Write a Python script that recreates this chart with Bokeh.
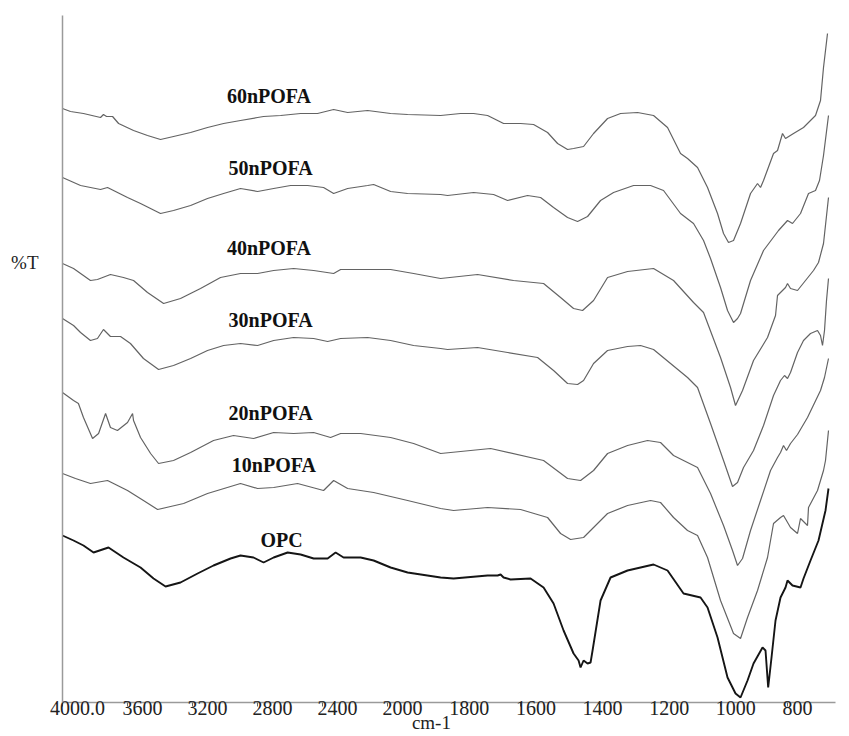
import numpy as np
from bokeh.plotting import figure
from bokeh.models import Range1d, FixedTicker, Label, CustomJSTickFormatter, LinearAxis
from bokeh.embed import file_html
from bokeh.resources import INLINE

# ---------------- data (wavenumber in cm-1, %T in arbitrary offset units) -------------
wn_60 = [4000, 3951, 3871, 3766, 3748, 3729, 3692, 3655, 3563, 3477, 3397, 3317, 3212, 3108, 3009, 2905, 2800, 2763, 2658, 2535,
         2431, 2332, 2246, 2123, 1991, 1940, 1841, 1781, 1742, 1700, 1652, 1601, 1562, 1520, 1490, 1460, 1442, 1412, 1382, 1340,
         1301, 1250, 1202, 1160, 1121, 1100, 1070, 1040, 1010, 992, 977, 962, 941, 911, 890, 881, 872, 842, 830, 815,
         806, 782, 752, 716, 701, 692, 680]
t_60 = [594, 591, 589, 585, 588, 586, 586, 579, 572, 567, 563, 566, 570, 575, 579, 582, 585, 586, 587, 589,
        589, 593, 590, 592, 589, 588, 587, 589, 589, 587, 579, 579, 578, 570, 559, 553, 554, 556, 569, 584,
        589, 590, 587, 575, 549, 544, 535, 515, 489, 469, 460, 462, 479, 509, 519, 515, 522, 549, 552, 569,
        564, 569, 575, 587, 602, 635, 669]

wn_50 = [4000, 3889, 3766, 3723, 3600, 3520, 3397, 3317, 3212, 3108, 3009, 2905, 2800, 2701, 2597, 2492, 2394, 2332, 2246, 2123,
         2086, 1991, 1940, 1841, 1820, 1742, 1682, 1640, 1580, 1541, 1502, 1460, 1430, 1400, 1361, 1322, 1262, 1211, 1172, 1121,
         1082, 1052, 1031, 1001, 980, 962, 950, 941, 911, 872, 827, 800, 785, 761, 737, 716, 704, 692, 677]
t_50 = [525, 517, 513, 515, 505, 499, 489, 492, 497, 504, 509, 514, 511, 514, 517, 517, 515, 509, 514, 517,
        518, 511, 509, 508, 507, 510, 508, 502, 507, 505, 495, 485, 481, 486, 502, 510, 517, 517, 512, 489,
        479, 462, 444, 415, 392, 380, 384, 389, 422, 452, 472, 482, 479, 489, 509, 512, 522, 547, 587]

wn_40 = [4000, 3932, 3828, 3785, 3705, 3625, 3563, 3477, 3378, 3274, 3151, 3028, 2905, 2800, 2701, 2578, 2455, 2332, 2289, 2166,
         1991, 1922, 1841, 1730, 1622, 1532, 1481, 1442, 1415, 1382, 1340, 1280, 1202, 1142, 1082, 1052, 1001, 971, 956, 935,
         902, 860, 836, 830, 806, 800, 791, 770, 722, 707, 692, 677]
t_40 = [439, 434, 422, 423, 428, 425, 422, 410, 399, 404, 414, 425, 429, 429, 432, 434, 432, 429, 433, 433,
        433, 429, 424, 428, 422, 419, 405, 394, 392, 402, 425, 431, 434, 422, 400, 390, 345, 315, 297, 312,
        342, 365, 387, 407, 415, 419, 414, 412, 432, 440, 459, 505]

wn_30 = [4000, 3932, 3889, 3828, 3785, 3748, 3705, 3643, 3582, 3502, 3409, 3317, 3212, 3108, 3009, 2905, 2800, 2701, 2578, 2455,
         2369, 2289, 2123, 1991, 1922, 1841, 1820, 1730, 1640, 1550, 1502, 1460, 1430, 1412, 1382, 1340, 1280, 1241, 1202, 1151,
         1100, 1070, 1031, 992, 965, 950, 932, 902, 872, 842, 821, 809, 800, 791, 770, 752, 731, 710, 701, 695,
         689, 683, 677]
t_30 = [384, 377, 370, 362, 364, 373, 366, 366, 359, 344, 333, 337, 344, 352, 357, 359, 357, 362, 365, 364,
        361, 364, 365, 362, 357, 354, 353, 355, 350, 345, 332, 319, 318, 322, 339, 352, 356, 357, 353, 339,
        325, 315, 279, 242, 216, 220, 235, 252, 277, 307, 322, 327, 324, 330, 350, 362, 369, 372, 367, 357,
        372, 402, 424]

wn_20 = [4000, 3932, 3902, 3871, 3815, 3778, 3735, 3705, 3662, 3600, 3569, 3563, 3520, 3458, 3409, 3317, 3212, 3071, 2948, 2825,
         2701, 2578, 2455, 2351, 2289, 2166, 1991, 1922, 1841, 1691, 1532, 1460, 1421, 1382, 1340, 1280, 1220, 1181, 1142, 1070,
         1031, 992, 965, 950, 935, 911, 881, 851, 830, 821, 812, 803, 791, 770, 740, 701, 689, 677]
t_20 = [310, 302, 299, 285, 264, 269, 289, 275, 272, 280, 289, 282, 265, 249, 239, 242, 250, 262, 267, 264,
        270, 269, 270, 265, 269, 269, 265, 259, 249, 254, 242, 224, 222, 232, 249, 257, 262, 260, 247, 235,
        209, 177, 152, 137, 144, 172, 202, 232, 245, 250, 257, 252, 259, 268, 285, 312, 325, 344]

wn_10 = [4000, 3920, 3828, 3723, 3600, 3502, 3415, 3335, 3255, 3108, 2905, 2800, 2701, 2554, 2394, 2332, 2246, 2086, 1940, 1841,
         1802, 1700, 1601, 1520, 1481, 1451, 1412, 1382, 1340, 1280, 1211, 1181, 1142, 1100, 1070, 1040, 1001, 962, 941, 920,
         890, 860, 842, 821, 812, 791, 770, 761, 740, 737, 710, 692, 686, 677]
t_10 = [229, 224, 219, 222, 212, 202, 193, 196, 199, 209, 219, 214, 215, 219, 212, 222, 214, 210, 202, 194,
        192, 195, 193, 185, 169, 163, 165, 175, 189, 197, 202, 200, 185, 172, 167, 145, 102, 69, 64, 85,
        112, 145, 179, 185, 187, 175, 169, 184, 177, 195, 212, 232, 242, 272]

wn_opc = [4000, 3932, 3871, 3809, 3717, 3625, 3520, 3440, 3366, 3274, 3169, 3071, 2966, 2905, 2825, 2763, 2701, 2615, 2535, 2455,
          2369, 2320, 2271, 2166, 2086, 1991, 1940, 1841, 1802, 1700, 1670, 1661, 1652, 1631, 1571, 1532, 1502, 1472, 1442, 1427,
          1421, 1412, 1400, 1391, 1385, 1361, 1331, 1280, 1202, 1160, 1112, 1061, 1040, 1010, 980, 956, 941, 920, 902, 875,
          866, 858, 848, 836, 821, 806, 800, 785, 761, 752, 731, 707, 686, 677]
t_opc = [167, 162, 157, 150, 155, 145, 135, 124, 116, 120, 129, 137, 144, 147, 145, 140, 145, 150, 148, 144,
         144, 150, 145, 145, 142, 135, 130, 125, 124, 127, 127, 128, 125, 123, 124, 115, 99, 72, 49, 42,
         35, 42, 39, 40, 52, 102, 125, 132, 138, 132, 109, 105, 95, 65, 25, 9, 5, 22, 39, 55,
         52, 15, 45, 82, 105, 115, 122, 117, 115, 124, 142, 162, 192, 214]

series_names = ["60nPOFA", "50nPOFA", "40nPOFA", "30nPOFA", "20nPOFA", "10nPOFA", "OPC"]
tick_wn = [4000, 3600, 3200, 2800, 2400, 2000, 1800, 1600, 1400, 1200, 1000, 800]
tick_labels = ["4000.0", "3600", "3200", "2800", "2400", "2000", "1800", "1600", "1400", "1200", "1000", "800"]
x_title = "cm-1"
y_title = "%T"


# ---------------- axis transform: region above 2000 cm-1 is compressed (x2.05) -------------
def to_u(w):
    w = np.asarray(w, dtype=float)
    return np.where(w >= 2000, (4000.0 - w) / 2.05, 2000.0 / 2.05 + (2000.0 - w))


SERIF = "Liberation Serif"
X_END_WN = 656
p = figure(width=849, height=736, output_backend="svg", toolbar_location=None,
           x_range=Range1d(0, float(to_u(X_END_WN))), y_range=Range1d(0, 687),
           min_border_left=62, min_border_right=14, min_border_top=15, min_border_bottom=34)
p.outline_line_color = None
p.grid.visible = False
p.background_fill_color = "white"
p.border_fill_color = "white"

AXIS_COLOR = "#9a9a9a"
# x axis: labels start at their tick (as in the instrument software) -> pad with no-break spaces
padded = [("\u00a0" * (6 if len(s) >= 4 else 4)) + s for s in tick_labels]
xa = p.xaxis[0]
xa.ticker = FixedTicker(ticks=[float(v) for v in to_u(tick_wn)])
xa.formatter = CustomJSTickFormatter(args=dict(labels=padded), code="return labels[index]")
xa.major_tick_in = 0
xa.major_tick_out = 4
xa.minor_tick_line_color = None
xa.axis_line_color = AXIS_COLOR
xa.axis_line_width = 1.5
xa.major_tick_line_color = "#666666"
xa.major_label_text_font = SERIF
xa.major_label_text_font_size = "20px"
xa.major_label_text_color = "#222222"
xa.major_label_standoff = -10

# x title "cm-1": a bare second axis under the first (no line, no ticks), centred below 1900 cm-1 region
title_axis = LinearAxis(ticker=FixedTicker(ticks=[1107.0]),
                        formatter=CustomJSTickFormatter(args=dict(t=x_title), code="return t"),
                        axis_line_color=None, major_tick_line_color=None, minor_tick_line_color=None,
                        major_tick_in=0, major_tick_out=0, major_label_standoff=-10,
                        major_label_text_font=SERIF, major_label_text_font_size="19px",
                        major_label_text_color="#222222")
p.add_layout(title_axis, "below")

# y axis: no scale, only the "%T" caption placed beside the axis
p.yaxis.ticker = FixedTicker(ticks=[440])
p.yaxis.formatter = CustomJSTickFormatter(args=dict(t=y_title), code="return t")
p.yaxis.major_tick_line_color = None
p.yaxis.minor_tick_line_color = None
p.yaxis.major_tick_out = 0
p.yaxis.major_tick_in = 0
p.yaxis.major_label_standoff = 24
p.yaxis.major_label_text_font = SERIF
p.yaxis.major_label_text_font_size = "19px"
p.yaxis.major_label_text_color = "#222222"
p.yaxis.axis_line_color = AXIS_COLOR
p.yaxis.axis_line_width = 1.5

series = [(wn_60, t_60), (wn_50, t_50), (wn_40, t_40), (wn_30, t_30), (wn_20, t_20), (wn_10, t_10), (wn_opc, t_opc)]
for name, (wn, t) in zip(series_names, series):
    if name == "OPC":
        p.line(to_u(wn), t, line_color="#151515", line_width=1.9)
    else:
        p.line(to_u(wn), t, line_color="#636363", line_width=1.2)

# curve labels (wavenumber, %T of text baseline)
label_pos = [(2730, 607), (2720, 535), (2730, 455), (2720, 383), (2720, 290), (2700, 238), (2652, 163)]
for name, (lw, lt) in zip(series_names, label_pos):
    p.add_layout(Label(x=float(to_u(lw)), y=lt, text=name, text_font=SERIF, text_font_size="20px",
                       text_font_style="bold", text_align="center", text_baseline="alphabetic",
                       text_color="#111111"))

open("out.html", "w").write(file_html(p, INLINE))
